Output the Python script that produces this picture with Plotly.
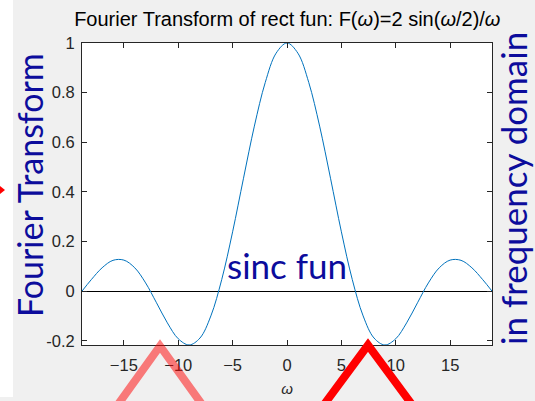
import plotly.graph_objects as go

# Samples of F(w) normalised to 1 at w = 0
omega = [-18.85, -18, -17, -16, -15, -14, -13, -12, -11, -10, -9, -8, -7, -6, -5, -4, -3, -2, -1,
         0, 1, 2, 3, 4, 5, 6, 7, 8, 9, 10, 11, 12, 13, 14, 15, 16, 17, 18, 18.85]
F = [0.0, 0.046, 0.094, 0.124, 0.125, 0.094, 0.033, -0.047, -0.128, -0.192, -0.217, -0.189, -0.100,
     0.047, 0.239, 0.455, 0.665, 0.841, 0.959,
     1.0,
     0.959, 0.841, 0.665, 0.455, 0.239, 0.047, -0.100, -0.189, -0.217, -0.192, -0.128, -0.047,
     0.033, 0.094, 0.125, 0.124, 0.094, 0.046, 0.0]

x_ticks = [-15, -10, -5, 0, 5, 10, 15]
y_ticks = [-0.2, 0, 0.2, 0.4, 0.6, 0.8, 1]
y_tick_text = ["-0.2", "0", "0.2", "0.4", "0.6", "0.8", "1"]

W, H = 535, 401
L, R, T, B = 82, 492, 43, 345   # plot area in pixels


def px(x):
    return (x - L) / (R - L)


def py(y):
    return (B - y) / (B - T)


fig = go.Figure()
fig.add_trace(go.Scatter(x=omega, y=F, mode="lines", line=dict(color="#0072BD", width=1, shape="spline", smoothing=1.0),
                         hoverinfo="skip", showlegend=False))

tick_font = dict(family="Arial, Liberation Sans", size=16.5, color="#262626")
axis_common = dict(showline=True, linecolor="#262626", linewidth=1, mirror="ticks", ticks="inside",
                   ticklen=5, tickcolor="#262626", showgrid=False, tickfont=tick_font, automargin=False)

fig.update_xaxes(range=[-18.85, 18.85], tickvals=x_ticks, zeroline=False, ticklabelstandoff=5,
                 title=dict(text="<i>ω</i>", font=dict(family="Arial, Liberation Sans", size=15, color="#262626"),
                            standoff=10),
                 **axis_common)
fig.update_yaxes(range=[-0.2172, 1], tickvals=y_ticks, ticktext=y_tick_text,
                 zeroline=True, zerolinecolor="#000000", zerolinewidth=1, ticklabelstandoff=3,
                 **axis_common)


def tri_path(ax, ay, half_dx, yb):
    return (f"M {px(ax - half_dx)},{py(yb)} L {px(ax)},{py(ay)} L {px(ax + half_dx)},{py(yb)}")


shapes = [
    # white strip at the left edge
    dict(type="rect", xref="paper", yref="paper", x0=px(0), x1=px(13), y0=py(0), y1=py(397),
         fillcolor="white", line=dict(width=0), layer="below"),
    # small arrow at the left edge
    dict(type="path", xref="paper", yref="paper",
         path=f"M {px(0)},{py(186)} L {px(5)},{py(190)} L {px(0)},{py(194)} Z",
         fillcolor="red", line=dict(width=0)),
    # faded triangle marker
    dict(type="path", xref="paper", yref="paper", path=tri_path(160, 346, 46, 410),
         line=dict(color="rgba(255,0,0,0.5)", width=8)),
    # solid triangle marker
    dict(type="path", xref="paper", yref="paper", path=tri_path(368, 345, 48, 410),
         line=dict(color="#ff0000", width=8)),
]

blue = "#0c0c9c"
annotations = [
    dict(text="Fourier Transform", x=px(29), y=py(185), xref="paper", yref="paper", showarrow=False,
         textangle=-90, font=dict(family="Lato", size=34, color=blue), xanchor="center", yanchor="middle"),
    dict(text="in frequency domain", x=px(513), y=py(189), xref="paper", yref="paper", showarrow=False,
         textangle=-90, font=dict(family="Lato", size=35, color=blue), xanchor="center", yanchor="middle"),
    dict(text="sinc fun", x=px(287), y=py(265), xref="paper", yref="paper", showarrow=False,
         font=dict(family="Lato", size=35, color=blue), xanchor="center", yanchor="middle"),
]

fig.update_layout(
    width=W, height=H,
    margin=dict(l=L, r=W - R, t=T, b=H - B, pad=0, autoexpand=False),
    paper_bgcolor="#f0f0f0", plot_bgcolor="white",
    title=dict(text="Fourier Transform of rect fun: F(<i>ω</i>)=2 sin(<i>ω</i>/2)/<i>ω</i>",
               x=0.537, xanchor="center", y=1 - 19 / H, yanchor="middle",
               font=dict(family="Arial, Liberation Sans", size=20, color="#000000")),
    shapes=shapes, annotations=annotations,
)

fig.write_html("out.html")
